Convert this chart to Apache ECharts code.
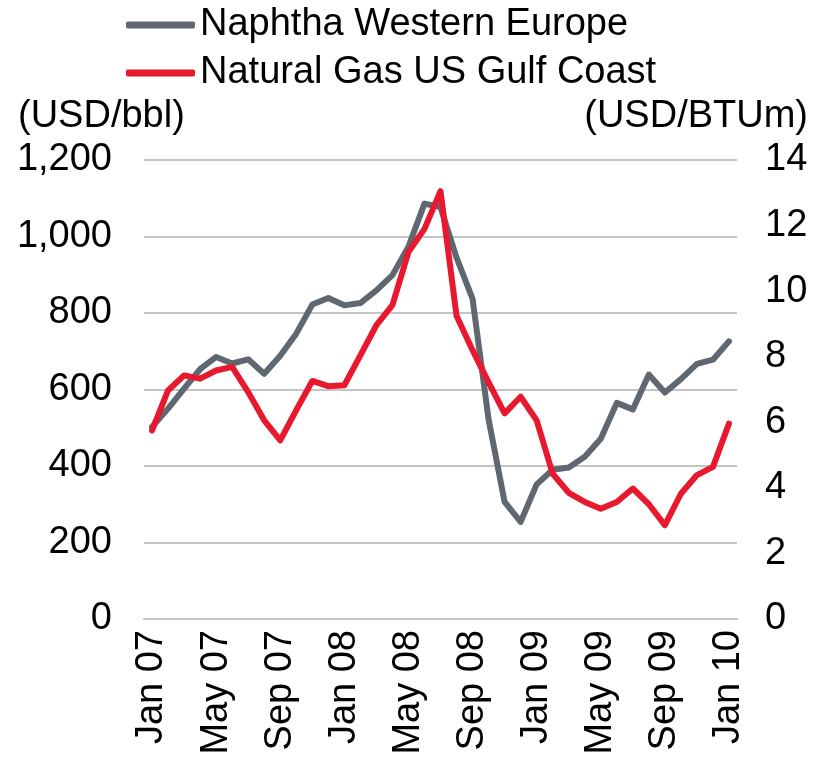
<!DOCTYPE html>
<html>
<head>
<meta charset="utf-8">
<script src="https://cdn.jsdelivr.net/npm/echarts@6/dist/echarts.min.js"></script>
<style>
  html, body { margin: 0; padding: 0; background: #fff; }
  #chart { width: 827px; height: 759px; }
</style>
</head>
<body>
<div id="chart"></div>
<script>
// months Jan 07 .. Jan 10
var months = ['Jan 07','Feb 07','Mar 07','Apr 07','May 07','Jun 07','Jul 07','Aug 07','Sep 07','Oct 07','Nov 07','Dec 07',
              'Jan 08','Feb 08','Mar 08','Apr 08','May 08','Jun 08','Jul 08','Aug 08','Sep 08','Oct 08','Nov 08','Dec 08',
              'Jan 09','Feb 09','Mar 09','Apr 09','May 09','Jun 09','Jul 09','Aug 09','Sep 09','Oct 09','Nov 09','Dec 09',
              'Jan 10'];
// USD/bbl (left axis)
var naphtha = [502, 550, 602, 653, 685, 668, 679, 641, 688, 746, 822, 839,
               820, 826, 859, 899, 973, 1086, 1077, 945, 837, 522, 306, 254,
               352, 390, 396, 424, 471, 565, 548, 639, 592, 627, 667, 678,
               726];
// USD/BTUm (right axis)
var natGas = [5.75, 6.97, 7.43, 7.33, 7.58, 7.69, 6.92, 6.06, 5.45, 6.37, 7.26, 7.10,
              7.13, 8.04, 8.96, 9.57, 11.19, 11.9, 13.05, 9.25, 8.2, 7.22, 6.27, 6.78,
              6.06, 4.43, 3.85, 3.57, 3.36, 3.57, 3.98, 3.50, 2.86, 3.82, 4.39, 4.64,
              5.96];
var seriesNames = ['Naphtha Western Europe', 'Natural Gas US Gulf Coast'];

var FONT = 'Liberation Sans, Arial, sans-serif';
var myChart = echarts.init(document.getElementById('chart'));

myChart.setOption({
    animation: false,
    color: ['#5f6870', '#e8192f'],
    textStyle: { fontFamily: FONT },
    legend: {
        orient: 'vertical',
        left: 121,
        top: 1,
        itemWidth: 69,
        itemHeight: 7,
        itemGap: 10,
        icon: 'roundRect',
        textStyle: { fontSize: 38, color: '#000', fontFamily: FONT },
        data: seriesNames
    },
    graphic: [
        { type: 'text', left: 18, top: 98,
          style: { text: '(USD/bbl)', fontSize: 38, fontFamily: FONT, fill: '#000' } },
        { type: 'text', right: 19, top: 98,
          style: { text: '(USD/BTUm)', fontSize: 38, fontFamily: FONT, fill: '#000' } }
    ],
    grid: { left: 144, right: 90, top: 160, bottom: 140 },
    xAxis: {
        type: 'category',
        data: months,
        boundaryGap: true,
        axisLine: { lineStyle: { color: '#c4c4c4', width: 2 } },
        axisTick: { interval: 3, length: 9, lineStyle: { color: '#c4c4c4', width: 2 } },
        axisLabel: { interval: 3, rotate: 90, margin: 11, fontSize: 38, color: '#000', fontFamily: FONT }
    },
    yAxis: [
        {
            type: 'value', min: 0, max: 1200, interval: 200,
            axisLine: { show: false }, axisTick: { show: false },
            axisLabel: { margin: 32, fontSize: 38, color: '#000', fontFamily: FONT },
            splitLine: { lineStyle: { color: '#c4c4c4', width: 2 } }
        },
        {
            type: 'value', min: 0, max: 14, interval: 2,
            axisLine: { show: false }, axisTick: { show: false },
            axisLabel: { margin: 28, fontSize: 38, color: '#000', fontFamily: FONT },
            splitLine: { show: false }
        }
    ],
    series: [
        {
            name: seriesNames[0], type: 'line', yAxisIndex: 0,
            data: naphtha, symbol: 'none',
            lineStyle: { width: 6, cap: 'round', join: 'round' }
        },
        {
            name: seriesNames[1], type: 'line', yAxisIndex: 1,
            data: natGas, symbol: 'none',
            lineStyle: { width: 6, cap: 'round', join: 'round' }
        }
    ]
});
</script>
</body>
</html>
